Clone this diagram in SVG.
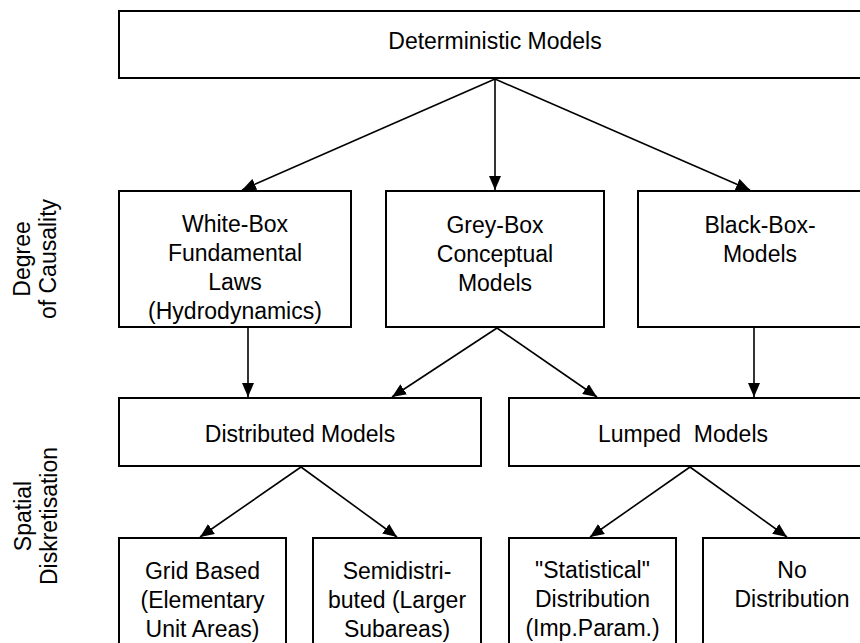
<svg xmlns="http://www.w3.org/2000/svg" width="860" height="643" viewBox="0 0 860 643">
  <defs>
    <marker id="arrow" markerUnits="userSpaceOnUse" markerWidth="14" markerHeight="12" refX="14" refY="6" orient="auto">
      <path d="M0,0 L14,6 L0,12 Z" fill="#000"/>
    </marker>
  </defs>
  <style>
    .box { fill: #fff; stroke: #000; stroke-width: 2; }
    .lbl { font-family: "Liberation Sans", Arial, sans-serif; font-size: 23px; fill: #000; text-anchor: middle; }
    .edge { stroke: #000; stroke-width: 1.6; fill: none; marker-end: url(#arrow); }
  </style>
  <rect width="860" height="643" fill="#fff"/>

  <!-- axis labels -->
  <g id="axis-causality">
    <text class="lbl" transform="translate(30,259) rotate(-90)">Degree</text>
    <text class="lbl" transform="translate(56,259) rotate(-90)">of Causality</text>
  </g>
  <g id="axis-spatial">
    <text class="lbl" transform="translate(31,516) rotate(-90)">Spatial</text>
    <text class="lbl" transform="translate(57,516) rotate(-90)">Diskretisation</text>
  </g>

  <!-- connectors -->
  <g id="connectors">
    <line class="edge" x1="495" y1="79" x2="242" y2="190"/>
    <line class="edge" x1="495" y1="79" x2="495" y2="190"/>
    <line class="edge" x1="495" y1="79" x2="750" y2="190"/>
    <line class="edge" x1="248" y1="328" x2="248" y2="397"/>
    <line class="edge" x1="497" y1="328" x2="392" y2="397"/>
    <line class="edge" x1="497" y1="328" x2="597" y2="397"/>
    <line class="edge" x1="754" y1="328" x2="754" y2="397"/>
    <line class="edge" x1="301" y1="467" x2="200" y2="537"/>
    <line class="edge" x1="301" y1="467" x2="397" y2="537"/>
    <line class="edge" x1="690" y1="467" x2="590" y2="537"/>
    <line class="edge" x1="690" y1="467" x2="787" y2="537"/>
  </g>

  <!-- level 0 -->
  <g id="deterministic">
    <rect class="box" x="119" y="11" width="760" height="67"/>
    <text class="lbl" x="495" y="49">Deterministic Models</text>
  </g>

  <!-- level 1: degree of causality -->
  <g id="white-box">
    <rect class="box" x="119" y="191" width="232" height="136"/>
    <text class="lbl" x="235" y="232">White-Box</text>
    <text class="lbl" x="235" y="261">Fundamental</text>
    <text class="lbl" x="235" y="290">Laws</text>
    <text class="lbl" x="235" y="319">(Hydrodynamics)</text>
  </g>
  <g id="grey-box">
    <rect class="box" x="386" y="191" width="218" height="136"/>
    <text class="lbl" x="495" y="233">Grey-Box</text>
    <text class="lbl" x="495" y="262">Conceptual</text>
    <text class="lbl" x="495" y="291">Models</text>
  </g>
  <g id="black-box">
    <rect class="box" x="638" y="191" width="244" height="136"/>
    <text class="lbl" x="760" y="233">Black-Box-</text>
    <text class="lbl" x="760" y="262">Models</text>
  </g>

  <!-- level 2: spatial discretisation -->
  <g id="distributed">
    <rect class="box" x="119" y="398" width="362" height="68"/>
    <text class="lbl" x="300" y="442">Distributed Models</text>
  </g>
  <g id="lumped">
    <rect class="box" x="509" y="398" width="372" height="68"/>
    <text class="lbl" x="683" y="442" xml:space="preserve">Lumped  Models</text>
  </g>

  <!-- level 3 -->
  <g id="grid-based">
    <rect class="box" x="119" y="538" width="167" height="130"/>
    <text class="lbl" x="202.5" y="579">Grid Based</text>
    <text class="lbl" x="202.5" y="608">(Elementary</text>
    <text class="lbl" x="202.5" y="637">Unit Areas)</text>
  </g>
  <g id="semidistributed">
    <rect class="box" x="313" y="538" width="168" height="130"/>
    <text class="lbl" x="397" y="579">Semidistri-</text>
    <text class="lbl" x="397" y="608">buted (Larger</text>
    <text class="lbl" x="397" y="637">Subareas)</text>
  </g>
  <g id="statistical">
    <rect class="box" x="509" y="538" width="167" height="130"/>
    <text class="lbl" x="592.5" y="578">"Statistical"</text>
    <text class="lbl" x="592.5" y="607">Distribution</text>
    <text class="lbl" x="592.5" y="636">(Imp.Param.)</text>
  </g>
  <g id="no-distribution">
    <rect class="box" x="703" y="538" width="178" height="130"/>
    <text class="lbl" x="792" y="578">No</text>
    <text class="lbl" x="792" y="607">Distribution</text>
  </g>
</svg>
